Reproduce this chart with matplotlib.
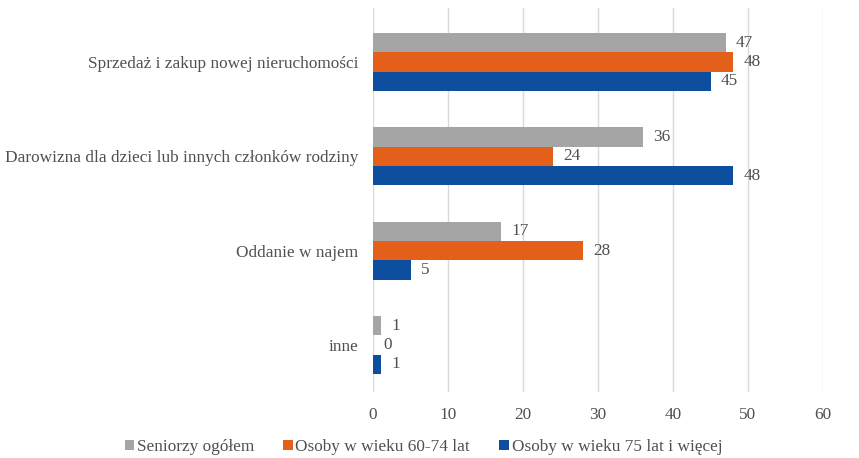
import matplotlib
matplotlib.use("Agg")
import matplotlib.pyplot as plt
import numpy as np

plt.rcParams['font.family'] = ['Liberation Serif', 'DejaVu Serif']

categories = ["Sprzedaż i zakup nowej nieruchomości",
              "Darowizna dla dzieci lub innych członków rodziny",
              "Oddanie w najem",
              "inne"]
series_names = ["Seniorzy ogółem", "Osoby w wieku 60-74 lat", "Osoby w wieku 75 lat i więcej"]
seniorzy = [47, 36, 17, 1]
wiek_60_74 = [48, 24, 28, 0]
wiek_75 = [45, 48, 5, 1]
xticks = [0, 10, 20, 30, 40, 50, 60]

colors = ["#A5A5A5", "#E4601A", "#0D4F9E"]
text_color = "#505050"

fig = plt.figure(figsize=(8.59, 4.58), dpi=100)
W, H = 859, 458
left, right, top, bottom = 373, 823, 8, 392
ax = fig.add_axes([left / W, 1 - bottom / H, (right - left) / W, (bottom - top) / H])

fs = 12.4
y = np.arange(len(categories))
h = 0.205
for i, (vals, name, c) in enumerate(zip([seniorzy, wiek_60_74, wiek_75], series_names, colors)):
    pos = y + (i - 1) * h
    ax.barh(pos, vals, height=h, color=c, label=name, zorder=3)
    for p, v in zip(pos, vals):
        ax.text(v + 1.4, p, str(v), va='center', ha='left', fontsize=fs, color=text_color)

ax.set_xlim(0, 60)
ax.set_ylim(3.5, -0.572)
ax.set_xticks(xticks)
ax.set_yticks(y)
ax.set_yticklabels(categories, fontsize=fs, color=text_color)
ax.tick_params(axis='x', labelsize=fs, labelcolor=text_color, length=0, pad=11)
ax.tick_params(axis='y', length=0, pad=10.5)
ax.grid(axis='x', color='#D9D9D9', linewidth=1, zorder=0)
for s in ax.spines.values():
    s.set_visible(False)

leg = fig.legend(loc='center', bbox_to_anchor=(0.493, 1 - 447 / H), ncol=3, frameon=False,
                 fontsize=fs, handlelength=0.55, handleheight=0.55, handletextpad=0.15,
                 columnspacing=1.7)
for t in leg.get_texts():
    t.set_color(text_color)

fig.savefig("out.png", dpi=100)
